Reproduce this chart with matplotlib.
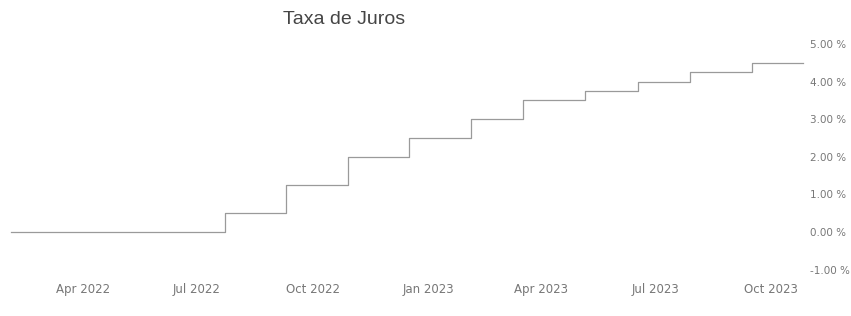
import numpy as np
import matplotlib
matplotlib.use("Agg")
import matplotlib.pyplot as plt
import matplotlib.dates as mdates
import matplotlib.transforms as mtransforms
import pandas as pd

# Taxa de juros (steps)
change_dates = ["2022-02-07", "2022-07-27", "2022-09-14", "2022-11-02", "2022-12-21",
                "2023-02-08", "2023-03-22", "2023-05-10", "2023-06-21", "2023-08-02",
                "2023-09-20", "2023-10-31"]
rates = [0.0, 0.50, 1.25, 2.00, 2.50, 3.00, 3.50, 3.75, 4.00, 4.25, 4.50, 4.50]
y_ticks = [-1, 0, 1, 2, 3, 4, 5]

x = pd.to_datetime(change_dates)

fig = plt.figure(figsize=(8.51, 3.16), dpi=100)
ax = fig.add_axes([0.0, 0.1408, 0.947, 0.7557])

ax.plot(x, rates, drawstyle="steps-post", color="#9a9a9a", lw=0.9)

ax.set_xlim(pd.Timestamp("2022-01-29"), pd.Timestamp("2023-11-02"))
ax.set_ylim(-1.05, 5.3)

ax.xaxis.set_major_locator(mdates.MonthLocator(bymonth=[1, 4, 7, 10]))
ax.xaxis.set_major_formatter(mdates.DateFormatter("%b %Y"))
ax.yaxis.tick_right()
ax.set_yticks(y_ticks)
ax.set_yticklabels(["%.2f %%" % v for v in y_ticks])

ax.tick_params(axis="both", length=0, labelcolor="#777777")
ax.tick_params(axis="x", pad=8, labelsize=8.5)
ax.tick_params(axis="y", pad=3, labelsize=7.5)
for s in ax.spines.values():
    s.set_visible(False)

# labels sit a little right of the tick dates in the original
shift = mtransforms.ScaledTranslation(5 / 100, 0, fig.dpi_scale_trans)
for lbl in ax.get_xticklabels():
    lbl.set_transform(lbl.get_transform() + shift)

fig.text(0.404, 0.937, "Taxa de Juros", ha="center", va="center",
         fontsize=14, color="#454545", family="Liberation Sans")

fig.savefig("out.png", dpi=100, facecolor="white")
